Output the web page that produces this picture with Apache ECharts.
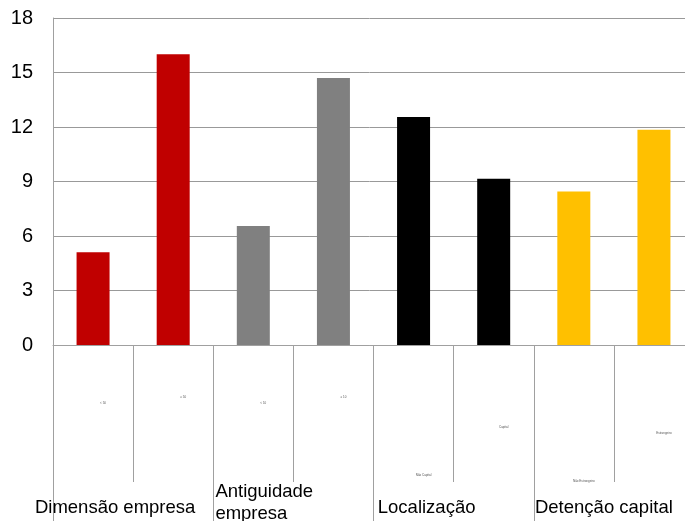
<!DOCTYPE html>
<html>
<head>
<meta charset="utf-8">
<script src="https://cdn.jsdelivr.net/npm/echarts@6/dist/echarts.min.js"></script>
<style>
  html, body { margin: 0; padding: 0; background: #fff; }
  #chart { width: 685px; height: 521px; }
</style>
</head>
<body>
<div id="chart"></div>
<script>
const subCategories = ['< 50', '≥ 50', '< 10', '≥ 10', 'Não Capital', 'Capital', 'Não Estrangeiro', 'Estrangeiro']
const groups = ['Dimensão empresa', 'Antiguidade\nempresa', 'Localização', 'Detenção capital']
const values = [5.1, 16.0, 6.55, 14.7, 12.55, 9.15, 8.45, 11.85]
const barColors = ['#c00000', '#c00000', '#808080', '#808080', '#000000', '#000000', '#ffc000', '#ffc000']
const yTicks = [0, 3, 6, 9, 12, 15, 18]

// where the tiny sub labels sit under the axis (px down from the axis)
const subLabelDrop = [57, 51, 57, 51, 129, 81, 135, 87]
// shift of group titles to the left (padding on the right)
const groupShift = [36, 56, 54, 20]
const groupDrop = [16, 0, 16, 16]

const chart = echarts.init(document.getElementById('chart'))

const option = {
  animation: false,
  // the plot runs a little past the right edge of the picture
  grid: { left: 53, right: -9, top: 18, bottom: 176, containLabel: false, outerBoundsMode: 'none' },
  xAxis: [
    {
      type: 'category',
      data: subCategories.map((c, i) => ({
        value: c,
        textStyle: { padding: [subLabelDrop[i], 0, 0, 20] }
      })),
      axisLine: { lineStyle: { color: '#a0a0a0', width: 1 } },
      axisTick: { show: true, interval: 0, length: 137, lineStyle: { color: '#a0a0a0', width: 1 } },
      axisLabel: { interval: 0, margin: 0, fontSize: 3, color: '#555', fontFamily: 'Liberation Sans' }
    },
    {
      type: 'category',
      position: 'bottom',
      data: groups.map((g, i) => ({
        value: g,
        textStyle: { padding: [groupDrop[i], groupShift[i], 0, 0] }
      })),
      axisLine: { show: false },
      axisTick: { show: true, interval: 0, length: 180, lineStyle: { color: '#a0a0a0', width: 1 } },
      axisLabel: {
        interval: 0,
        margin: 136,
        fontSize: 18.5,
        lineHeight: 22,
        color: '#000',
        fontFamily: 'Liberation Sans',
        formatter: v => v.indexOf('\n') >= 0
          ? v.split('\n').map(s => `{l|${s}}`).join('\n')
          : v,
        rich: { l: { fontSize: 18.5, lineHeight: 22, width: 100, align: 'left', fontFamily: 'Liberation Sans', color: '#000' } }
      }
    }
  ],
  yAxis: {
    type: 'value',
    min: yTicks[0],
    max: yTicks[yTicks.length - 1],
    interval: 3,
    axisLine: { show: true, lineStyle: { color: '#a0a0a0' } },
    axisTick: { show: false },
    splitLine: { lineStyle: { color: '#999', width: 1 } },
    axisLabel: { fontSize: 20, color: '#000', margin: 20, fontFamily: 'Liberation Sans' }
  },
  series: [{
    type: 'bar',
    barWidth: 33,
    data: values.map((v, i) => ({ value: v, itemStyle: { color: barColors[i] } }))
  }]
}

chart.setOption(option)
</script>
</body>
</html>
